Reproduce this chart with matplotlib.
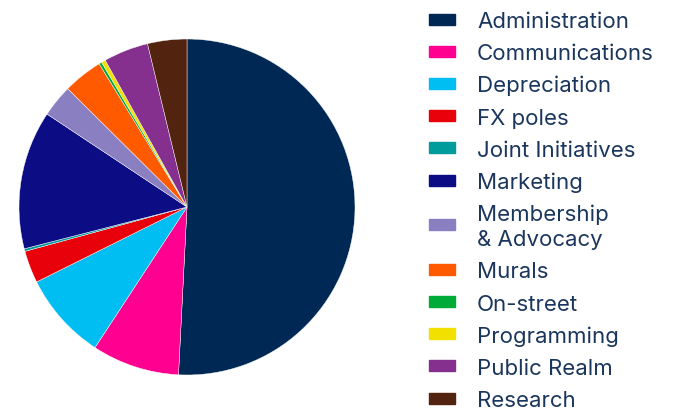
import matplotlib.pyplot as plt
from matplotlib.patches import Rectangle

# Expense categories and their shares (percent)
labels = ['Administration', 'Communications', 'Depreciation', 'FX poles',
          'Joint Initiatives', 'Marketing', 'Membership\n& Advocacy', 'Murals',
          'On-street', 'Programming', 'Public Realm', 'Research']
shares = [50.7, 8.4, 8.4, 3.1, 0.25, 13.3, 3.1, 3.8, 0.27, 0.4, 4.3, 3.77]
colors = ['#002855', '#ff0090', '#00bef2', '#e8000b', '#009b9b', '#0c0c85',
          '#8a7fc0', '#ff5a00', '#00ab3a', '#f2e000', '#85308f', '#52230f']

W, H = 674, 414
fig = plt.figure(figsize=(W / 100, H / 100), dpi=100)
plt.rcParams['font.family'] = ['Inter', 'DejaVu Sans']

# pie: centre about (187, 208) px, radius 168 px
ax = fig.add_axes([19 / W, (H - 376) / H, 336 / W, 336 / H])
ax.pie(shares, colors=colors, startangle=90, counterclock=False,
       wedgeprops=dict(linewidth=0.3, edgecolor='white'))
ax.set_xlim(-1, 1)
ax.set_ylim(-1, 1)
ax.set_aspect('equal')
ax.axis('off')

# legend drawn by hand to match the spacing (pixel units from the top)
text_color = '#1b365d'
step, line_gap, cap = 32.2, 25, 8
y = 20 - step
for lab, col in zip(labels, colors):
    lines = lab.split('\n')
    extra = (len(lines) - 1) * line_gap / 2
    yc = y + step + extra
    fig.add_artist(Rectangle((429 / W, 1 - (yc + 5.5) / H), 26 / W, 11 / H,
                             transform=fig.transFigure, color=col))
    for k, ln in enumerate(lines):
        base = yc - extra + k * line_gap + cap
        fig.text(477 / W, 1 - base / H, ln, color=text_color, fontsize=16,
                 va='baseline', ha='left')
    y = yc + extra

fig.savefig('out.png', dpi=100)
